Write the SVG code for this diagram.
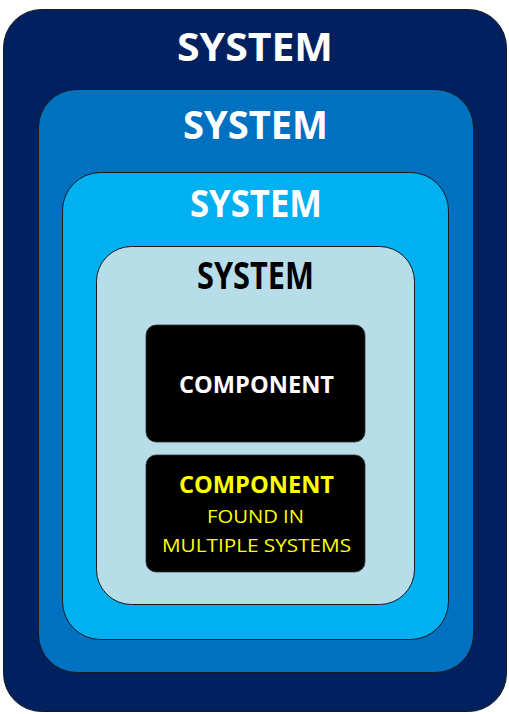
<svg xmlns="http://www.w3.org/2000/svg" width="509" height="714" viewBox="0 0 509 714">
<style>
.box{stroke:#1a1a1a;stroke-width:1}
.sys{font-family:"Open Sans","Liberation Sans",sans-serif;font-weight:bold;text-anchor:middle}
.comp{font-family:"Open Sans","Liberation Sans",sans-serif;text-anchor:middle}
</style>
<rect width="509" height="714" fill="#ffffff"/>
<g id="system1">
<rect class="box" x="3.5" y="9.5" width="503" height="702" rx="38" fill="#002060" stroke="#555"/>
<text class="sys" x="255" y="61" font-size="40" fill="#ffffff" textLength="156" lengthAdjust="spacingAndGlyphs">SYSTEM</text>
</g>
<g id="system2">
<rect class="box" x="38.5" y="89.5" width="435" height="583" rx="38" fill="#0070C0"/>
<text class="sys" x="255.5" y="139" font-size="40" fill="#ffffff" textLength="145" lengthAdjust="spacingAndGlyphs">SYSTEM</text>
</g>
<g id="system3">
<rect class="box" x="62.5" y="172.5" width="386" height="467" rx="38" fill="#00B0F0"/>
<text class="sys" x="256" y="217" font-size="37" fill="#ffffff" textLength="132" lengthAdjust="spacingAndGlyphs">SYSTEM</text>
</g>
<g id="system4">
<rect class="box" x="96.5" y="246.5" width="318" height="358" rx="35" fill="#B7DEE8"/>
<text class="sys" x="255.5" y="289" font-size="37" fill="#000000" textLength="117" lengthAdjust="spacingAndGlyphs">SYSTEM</text>
</g>
<g id="component1">
<rect x="146" y="325" width="219" height="117" rx="10" fill="#000000" stroke="#333" stroke-width="0.8"/>
<text class="comp" x="256.5" y="393" font-size="24" font-weight="bold" fill="#ffffff" textLength="155" lengthAdjust="spacingAndGlyphs">COMPONENT</text>
</g>
<g id="component2">
<rect x="146" y="455" width="219" height="117" rx="10" fill="#000000" stroke="#333" stroke-width="0.8"/>
<text class="comp" x="256.5" y="493" font-size="23" font-weight="bold" fill="#FFFF00" textLength="155" lengthAdjust="spacingAndGlyphs">COMPONENT</text>
<text class="comp" x="255.5" y="523" font-size="18" fill="#FFFF00" textLength="97" lengthAdjust="spacingAndGlyphs">FOUND IN</text>
<text class="comp" x="256.5" y="552" font-size="18" fill="#FFFF00" textLength="189" lengthAdjust="spacingAndGlyphs">MULTIPLE SYSTEMS</text>
</g>
<g id="connectors"/>
</svg>
